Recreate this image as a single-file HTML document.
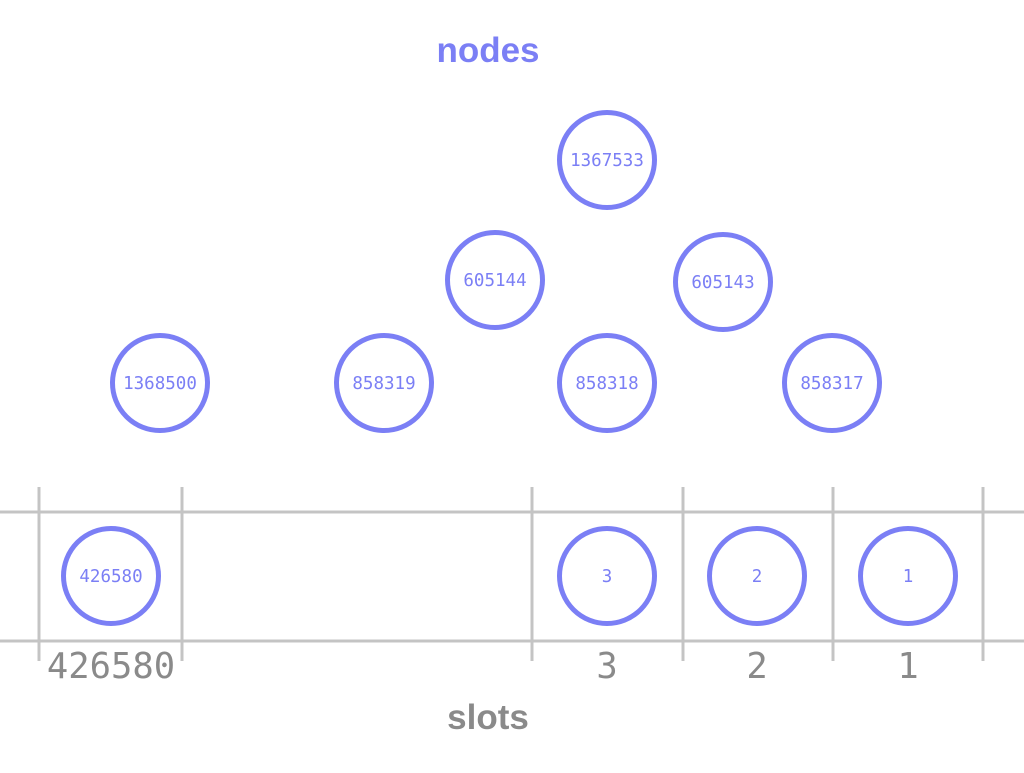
<!DOCTYPE html>
<html><head><style>html,body{margin:0;padding:0;background:#fff}</style></head><body>
<svg width="1024" height="768" xmlns="http://www.w3.org/2000/svg">
<g stroke="#c4c4c4" stroke-width="3">
<line x1="0" y1="512" x2="1024" y2="512"/><line x1="0" y1="641" x2="1024" y2="641"/>
<line x1="39" y1="487" x2="39" y2="661"/><line x1="182" y1="487" x2="182" y2="661"/>
<line x1="532" y1="487" x2="532" y2="661"/><line x1="683" y1="487" x2="683" y2="661"/>
<line x1="833" y1="487" x2="833" y2="661"/><line x1="983" y1="487" x2="983" y2="661"/>
</g>
<g fill="#fff" stroke="#7b7ff5" stroke-width="5">
<circle cx="607" cy="160" r="47.5"/><circle cx="495" cy="280" r="47.5"/><circle cx="723" cy="282" r="47.5"/>
<circle cx="160" cy="383" r="47.5"/><circle cx="384" cy="383" r="47.5"/><circle cx="607" cy="383" r="47.5"/><circle cx="832" cy="383" r="47.5"/>
<circle cx="111" cy="576" r="47.5"/><circle cx="607" cy="576" r="47.5"/><circle cx="757" cy="576" r="47.5"/><circle cx="908" cy="576" r="47.5"/>
</g>
<g fill="#7b7ff5" font-family="'DejaVu Sans Mono','Liberation Mono',monospace" font-size="17.5" text-anchor="middle">
<text x="607" y="166">1367533</text><text x="495" y="286">605144</text><text x="723" y="288">605143</text>
<text x="160" y="389">1368500</text><text x="384" y="389">858319</text><text x="607" y="389">858318</text><text x="832" y="389">858317</text>
<text x="111" y="582">426580</text><text x="607" y="582">3</text><text x="757" y="582">2</text><text x="908" y="582">1</text>
</g>
<g fill="#8a8a8a" font-family="'DejaVu Sans Mono','Liberation Mono',monospace" font-size="35.5" text-anchor="middle">
<text x="111" y="678">426580</text><text x="607" y="678">3</text><text x="757" y="678">2</text><text x="908" y="678">1</text>
</g>
<text x="488" y="62" fill="#7b7ff5" font-family="'Liberation Sans',sans-serif" font-weight="bold" font-size="35" text-anchor="middle">nodes</text>
<text x="488" y="729" fill="#8a8a8a" font-family="'Liberation Sans',sans-serif" font-weight="bold" font-size="35" text-anchor="middle">slots</text>
</svg>
</body></html>
